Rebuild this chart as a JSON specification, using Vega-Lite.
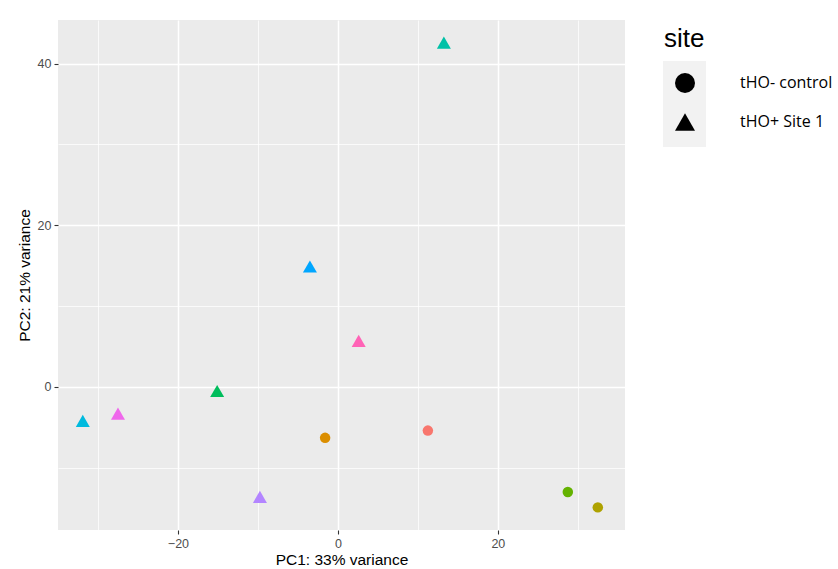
{
  "$schema": "https://vega.github.io/schema/vega-lite/v6.json",
  "width": 567,
  "height": 510,
  "autosize": {"type": "none"},
  "padding": {"left": 58, "top": 20, "right": 213, "bottom": 39},
  "background": "white",
  "config": {
    "view": {"fill": "#EBEBEB", "stroke": null},
    "font": "Liberation Sans"
  },
  "data": {
    "values": [
      {"sample": "S1", "PC1": 11.25, "PC2": -5.4, "site": "tHO- control"},
      {"sample": "S2", "PC1": -1.6, "PC2": -6.3, "site": "tHO- control"},
      {"sample": "S3", "PC1": 32.5, "PC2": -14.9, "site": "tHO- control"},
      {"sample": "S4", "PC1": 28.75, "PC2": -13.0, "site": "tHO- control"},
      {"sample": "S5", "PC1": -15.1, "PC2": -0.5, "site": "tHO+ Site 1"},
      {"sample": "S6", "PC1": 13.25, "PC2": 42.6, "site": "tHO+ Site 1"},
      {"sample": "S7", "PC1": -31.9, "PC2": -4.2, "site": "tHO+ Site 1"},
      {"sample": "S8", "PC1": -3.5, "PC2": 14.9, "site": "tHO+ Site 1"},
      {"sample": "S9", "PC1": -9.75, "PC2": -13.6, "site": "tHO+ Site 1"},
      {"sample": "S10", "PC1": -27.5, "PC2": -3.3, "site": "tHO+ Site 1"},
      {"sample": "S11", "PC1": 2.6, "PC2": 5.7, "site": "tHO+ Site 1"}
    ]
  },
  "mark": {"type": "point", "filled": true, "opacity": 1},
  "encoding": {
    "x": {
      "field": "PC1",
      "type": "quantitative",
      "scale": {"domain": [-35, 35.9], "nice": false, "zero": false},
      "axis": {
        "title": "PC1: 33% variance",
        "values": [-30, -20, -10, 0, 10, 20, 30],
        "labelExpr": "datum.value % 20 === 0 ? datum.label : ''",
        "grid": true,
        "gridColor": "white",
        "gridWidth": {"condition": {"test": "datum.value % 20 === 0", "value": 1.5}, "value": 0.75},
        "domain": false,
        "tickColor": "#333333",
        "tickSize": 4,
        "tickWidth": 1.1,
        "tickOpacity": {"condition": {"test": "datum.value % 20 === 0", "value": 1}, "value": 0},
        "labelColor": "#4D4D4D",
        "labelFontSize": 12.5,
        "labelPadding": 3,
        "titleFontSize": 15.5,
        "titleFontWeight": "normal",
        "titleColor": "black",
        "titlePadding": 3
      }
    },
    "y": {
      "field": "PC2",
      "type": "quantitative",
      "scale": {"domain": [-17.7, 45.4], "nice": false, "zero": false},
      "axis": {
        "title": "PC2: 21% variance",
        "values": [-10, 0, 10, 20, 30, 40],
        "labelExpr": "datum.value % 20 === 0 ? datum.label : ''",
        "grid": true,
        "gridColor": "white",
        "gridWidth": {"condition": {"test": "datum.value % 20 === 0", "value": 1.5}, "value": 0.75},
        "domain": false,
        "tickColor": "#333333",
        "tickSize": 4,
        "tickWidth": 1.1,
        "tickOpacity": {"condition": {"test": "datum.value % 20 === 0", "value": 1}, "value": 0},
        "labelColor": "#4D4D4D",
        "labelFontSize": 12.5,
        "labelPadding": 3,
        "titleFontSize": 15.5,
        "titleFontWeight": "normal",
        "titleColor": "black",
        "titlePadding": 5
      }
    },
    "color": {
      "field": "sample",
      "type": "nominal",
      "scale": {
        "domain": ["S1", "S2", "S3", "S4", "S5", "S6", "S7", "S8", "S9", "S10", "S11"],
        "range": ["#F8766D", "#DB8E00", "#AEA200", "#64B200", "#00BD5C", "#00C1A7", "#00BADE", "#00A6FF", "#B385FF", "#EF67EB", "#FF63B6"]
      },
      "legend": null
    },
    "size": {
      "field": "site",
      "type": "nominal",
      "scale": {"domain": ["tHO+ Site 1", "tHO- control"], "range": [196, 110]},
      "legend": null
    },
    "strokeWidth": {
      "field": "site",
      "type": "nominal",
      "scale": {"type": "ordinal", "range": [0, 0]},
      "legend": {
        "orient": "none",
        "legendX": 605,
        "legendY": 41,
        "values": ["tHO- control"],
        "title": null,
        "padding": 0,
        "symbolType": "M-1,-1H1V3H-1Z",
        "symbolSize": 1849,
        "symbolFillColor": "#F2F2F2",
        "symbolOpacity": 1,
        "rowPadding": 0,
        "labelExpr": "''",
        "labelFontSize": 1,
        "zindex": 0,
        "encode": {
          "symbols": {"update": {"fill": {"value": "#F2F2F2"}, "stroke": {"value": "transparent"}, "opacity": {"value": 1}, "shape": {"value": "M-1,-1H1V3H-1Z"}, "size": {"value": 1849}}}
        }
      }
    },
    "shape": {
      "field": "site",
      "type": "nominal",
      "scale": {"domain": ["tHO- control", "tHO+ Site 1"], "range": ["circle", "triangle-up"]},
      "legend": {
        "orient": "none",
        "legendX": 606,
        "legendY": 6,
        "title": "site",
        "titleFont": "Liberation Sans",
        "titleFontSize": 26,
        "titleFontWeight": "normal",
        "titleColor": "black",
        "titlePadding": 21,
        "padding": 0,
        "symbolSize": 400,
        "symbolOffset": 11,
        "symbolFillColor": "black",
        "symbolStrokeWidth": 0,
        "labelFont": "Open Sans",
        "labelFontSize": 16,
        "labelColor": "black",
        "labelOffset": 45,
        "rowPadding": 19,
        "zindex": 1,
        "encode": {
          "symbols": {
            "update": {
              "fill": {"value": "black"},
              "stroke": {"value": "transparent"},
              "opacity": {"value": 1},
              "size": [{"test": "datum.value === 'tHO- control'", "value": 324}, {"value": 600}]
            }
          }
        }
      }
    }
  }
}
